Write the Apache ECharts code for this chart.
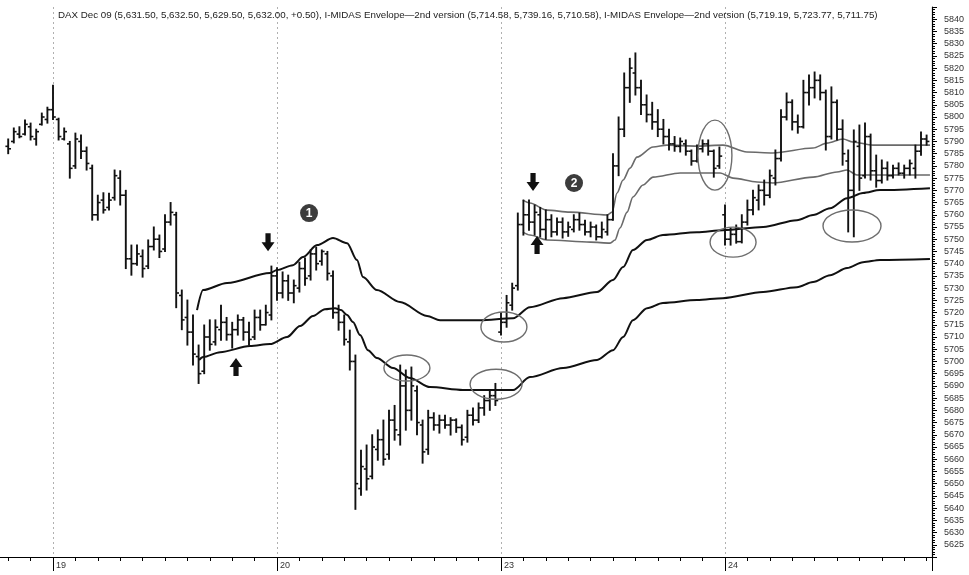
<!DOCTYPE html>
<html><head><meta charset="utf-8">
<script src="https://cdn.jsdelivr.net/npm/echarts@6/dist/echarts.min.js"></script>
<style>html,body{margin:0;padding:0;background:#fff}#c{width:969px;height:575px}</style>
</head><body><div id="c"></div>
<script>
const titleText = "DAX Dec 09 (5,631.50, 5,632.50, 5,629.50, 5,632.00, +0.50), I-MIDAS Envelope\u20142nd version (5,714.58, 5,739.16, 5,710.58), I-MIDAS Envelope\u20142nd version (5,719.19, 5,723.77, 5,711.75)";

// x axis: time in "hour-tick" units, day boundaries every 10 units
const dayTicks = {0: '19', 10: '20', 20: '23', 30: '24'};
const barStep = 0.25;

// OHLC bars [open, high, low, close]
const bars18 = [
  [5788,5791,5785,5787],[5790,5795.5,5789.4,5794],[5793,5796,5791.5,5792],[5793,5798.8,5792.6,5797],
  [5796,5797.5,5790.6,5792],[5791,5795,5788.5,5794],[5797,5801.6,5796.7,5800],[5799,5804,5797.5,5803]
];
const bars19 = [
  [5803,5813,5799,5800],[5799,5799.5,5790.6,5792],[5791,5795.5,5790.6,5794],[5789,5790,5775,5779],
  [5780,5793.4,5779,5791],[5790,5792.6,5783,5786],[5786,5787.7,5778.3,5781],[5779,5780.3,5757.8,5760],
  [5760,5768,5757.8,5765],[5766,5769,5760.7,5762],[5763,5768.8,5762,5766],[5767,5778.3,5766,5776],
  [5775,5778,5764,5768],[5768,5770,5738,5742],[5742,5747.6,5735.3,5740],[5740,5747.6,5739.4,5744],
  [5743,5745.6,5734.5,5738],[5739,5749.7,5738,5747],[5747,5755,5745.6,5750],[5750,5751.7,5742.5,5745],
  [5746,5760,5745,5757],[5757,5765,5755.8,5761],[5760,5761,5722,5728],[5727,5729.2,5713,5717],
  [5718,5725.1,5706.7,5712],[5712,5719,5698.5,5703],[5702,5706.7,5691,5695],[5696,5714.9,5695,5710],
  [5710,5717,5704.6,5707],[5708,5717,5706.7,5714],[5713,5723,5708.7,5716],[5716,5718,5708.7,5711],
  [5711,5716,5705.5,5713],[5713,5719,5710.8,5717],[5717,5718,5708.7,5712],[5712,5716,5706.7,5709],
  [5710,5721,5709,5718],[5718,5721,5712.8,5715],[5715,5723,5714.9,5720],[5719,5739,5717,5735]
];
const bars20 = [
  [5735,5738.3,5725,5728],[5728,5736.6,5726,5733],[5733,5735.3,5725,5728],[5728,5733.3,5724,5731],
  [5730,5740.6,5728.4,5738],[5738,5742.3,5731.2,5734],[5735,5745.6,5733.3,5744],[5744,5746.8,5737.4,5740],
  [5741,5745.6,5739.4,5745],[5744,5745,5733.3,5736],[5735,5737,5717.7,5720],[5720,5723,5712.8,5716],
  [5716,5719,5706.7,5709],[5708,5712.8,5696.5,5700],[5700,5702.6,5639.5,5650],[5648,5663.7,5645.3,5657],
  [5656,5665.8,5647.4,5652],[5653,5670,5652,5665],[5664,5672,5659.6,5668],[5668,5676,5657.6,5660],
  [5662,5680,5660,5676],[5676,5682,5667.8,5672],[5670,5698.5,5665.8,5690],[5690,5696.5,5671.9,5680],
  [5680,5697.7,5676,5690],[5688,5690,5670,5675],[5674,5676,5658.4,5663],[5664,5680,5662,5677],
  [5677,5679,5671.9,5674],[5674,5678,5670.7,5676],[5676,5678,5672.7,5674],[5674,5677,5669.9,5676],
  [5676,5676.5,5671,5673],[5673,5674,5665.8,5668],[5669,5680,5667,5678],[5678,5681,5674,5676],
  [5676,5683,5675,5681],[5681,5686,5678,5684],[5684,5688.3,5680,5686],[5686,5691,5682,5684]
];
const bars23 = [
  [5712,5720,5710.8,5716],[5716,5727,5714,5724],[5723,5732,5721,5730],[5731,5760.7,5729.2,5756],
  [5756,5766,5751.7,5760],[5760,5766,5753.7,5757],[5757,5764,5751.7,5761],[5760,5763,5751,5754],
  [5754,5762,5750,5758],[5758,5760,5751,5753],[5753,5758.7,5751.7,5757],[5757,5758.7,5750.5,5753],
  [5753,5757,5751.2,5755],[5754,5760,5753,5758],[5758,5760.7,5753.7,5756],[5756,5757.8,5751.7,5753],
  [5753,5757,5751,5755],[5755,5755.8,5749.7,5751],[5751,5757,5750.5,5754],[5753,5760,5751.7,5758],
  [5758,5785,5757.8,5780],[5780,5800,5776,5795],[5795,5818,5792,5812],[5812,5824,5806,5820],
  [5818,5826.2,5809,5812],[5812,5815,5801,5805],[5805,5809,5798,5801],[5801,5806,5795,5798],
  [5798,5803,5792,5795],[5795,5799,5789,5792],[5792,5795,5786.5,5789],[5789,5792,5786,5788],
  [5788,5791.4,5785.7,5790],[5789,5790.6,5784.4,5786],[5786,5786.5,5780.3,5782],[5782,5788.5,5781.6,5787],
  [5787,5790.6,5785.7,5789],[5789,5790.6,5784.4,5786],[5786,5786.5,5775.4,5779],[5780,5787.7,5779,5784]
];
const bars24 = [
  [5760,5764,5747.6,5750],[5750,5754.6,5747.6,5752],[5752,5755.8,5748.4,5749],[5749,5760,5748.5,5757],
  [5757,5766,5755.8,5762],[5762,5770,5760,5767],[5766,5772.2,5762,5770],[5770,5774.2,5764,5768],
  [5768,5778.3,5767,5776],[5775,5786.5,5772.2,5783],[5783,5803,5782,5800],[5800,5809.8,5798.8,5806],
  [5806,5807,5794.7,5798],[5798,5800.8,5793.4,5796],[5796,5815,5795.5,5810],[5810,5817.2,5804.9,5812],
  [5812,5818.4,5807.8,5815],[5815,5817.2,5807,5810],[5810,5811,5786.5,5792],[5792,5812.3,5791,5806],
  [5806,5807,5790.6,5795],[5795,5798.8,5780.3,5785],[5782,5786.5,5753,5770],[5770,5794.7,5751,5790],
  [5788,5796.7,5770,5775],[5776,5797.5,5775,5792],[5792,5793,5774.2,5778],[5778,5784.4,5771.3,5774],
  [5774,5782.4,5773,5779],[5779,5781.6,5774.2,5776],[5776,5780.3,5775,5779],[5779,5781.2,5776.3,5777],
  [5777,5780.3,5775,5779],[5779,5782.4,5776.3,5781],[5779,5788.5,5775,5786],[5786,5793.9,5784.4,5791],
  [5791,5792.6,5788.5,5790]
];
const sessions = [[-2, bars18], [0, bars19], [10, bars20], [20, bars23], [30, bars24]];

// I-MIDAS envelope 1 (launched day 19) [time, price]
const env1Upper = [
  [6.43,5721.0],[6.70,5729.2],[7.77,5732.1],[9.69,5736.2],[10.0,5737.4],[10.71,5739.4],[11.16,5742.7],
  [11.79,5747.6],[12.5,5750.5],[13.13,5748.4],[13.57,5741.5],[13.84,5734.5],[14.46,5729.2],[15.49,5724.3],
  [16.70,5718.6],[17.28,5716.9],[19.06,5716.9],[20.54,5717.7],[21.29,5722.2],[22.77,5725.9],[24.29,5728.4],
  [25.0,5733.3],[25.45,5738.6],[25.89,5745.6],[26.52,5749.7],[27.23,5751.7],[28.75,5752.9],[29.91,5753.7],
  [31.70,5755.0],[33.21,5757.8],[33.93,5759.9],[34.69,5762.7],[35.45,5766.8],[36.16,5768.9],[36.92,5770.1],
  [39.15,5770.9]
];
const env1Lower = [
  [6.52,5700.6],[6.70,5701.8],[7.46,5703.8],[8.79,5706.3],[9.69,5707.1],[10.45,5710.0],[11.03,5714.5],
  [11.61,5718.6],[12.14,5721.4],[12.59,5721.8],[12.86,5721.0],[13.13,5719.0],[13.39,5716.1],[13.71,5710.8],
  [14.06,5704.6],[14.46,5701.4],[15.18,5697.3],[15.94,5693.2],[16.83,5689.5],[18.30,5688.3],[20.54,5688.3],
  [21.29,5693.6],[22.77,5697.3],[24.29,5700.6],[25.0,5704.6],[25.45,5710.0],[25.89,5716.9],[26.52,5721.8],
  [27.23,5723.9],[28.75,5725.1],[29.91,5725.9],[31.70,5728.4],[33.21,5730.4],[33.93,5732.5],[34.69,5735.3],
  [35.45,5738.2],[36.16,5740.6],[36.92,5741.5],[39.15,5741.9]
];
// I-MIDAS envelope 2 (launched day 23)
const env2Upper = [
  [20.98,5766.0],[21.29,5764.8],[22.05,5761.9],[23.08,5761.1],[24.73,5759.9],[24.96,5761.1],[25.18,5768.9],
  [25.45,5774.2],[25.76,5779.1],[26.07,5783.6],[26.79,5787.7],[27.41,5788.5],[28.75,5788.1],[29.91,5788.5],
  [30.98,5785.7],[32.14,5785.3],[33.93,5787.3],[34.55,5789.3],[35.27,5791.0],[35.71,5789.8],[36.61,5788.5],
  [39.15,5788.5]
];
const env2Lower = [
  [20.98,5752.9],[21.29,5751.7],[22.05,5749.7],[24.0,5748.8],[24.87,5748.4],[25.09,5749.7],[25.31,5754.6],
  [25.63,5761.1],[25.89,5767.3],[26.34,5772.2],[26.79,5775.4],[28.0,5777.1],[29.78,5777.1],[30.36,5775.0],
  [31.43,5773.4],[32.14,5773.0],[33.93,5775.4],[35.0,5777.5],[35.45,5778.3],[35.89,5776.3],[36.61,5776.3],
  [39.15,5776.3]
];

// annotation anchors [time, price]
const ellipseAnchors = [[20.13,5714.1],[15.80,5697.3],[19.78,5690.7],[29.55,5784.4],[30.36,5748.8],[35.67,5755.4]];
const ellipseRadii = [[23,15],[23,13],[26,15],[17,35],[23,15],[29,16]];
const downArrows = [[9.60,5748.8],[21.43,5773.4]];
const upArrows = [[8.17,5697.7],[21.61,5747.6]];
const numberMarks = [[11.43,5760.7,'1'],[23.26,5773.0,'2']];

const ohlcData = [];
sessions.forEach(function (s) {
  s[1].forEach(function (b, j) { ohlcData.push([s[0] + j * barStep, b[0], b[1], b[2], b[3]]); });
});

const FONT = '"Liberation Sans", Arial, sans-serif';
const chart = echarts.init(document.getElementById('c'), null, {renderer: 'canvas'});
chart.setOption({
  animation: false,
  backgroundColor: '#fff',
  title: {
    text: titleText, left: 58, top: 10, padding: 0,
    textStyle: {fontSize: 9.75, fontWeight: 'normal', color: '#222', fontFamily: FONT}
  },
  grid: {left: -171, right: 37, top: 7, bottom: 18, containLabel: false, outerBoundsMode: 'none'},
  xAxis: {
    type: 'value', min: -10, max: 39.241, interval: 10,
    axisLine: {show: true, onZero: false, lineStyle: {color: '#000', width: 1.2}},
    axisTick: {show: true, length: 14, lineStyle: {color: '#000', width: 1}},
    minorTick: {show: true, splitNumber: 10, length: 4, lineStyle: {color: '#000', width: 1}},
    axisLabel: {
      show: true, margin: 4, align: 'left', padding: [0, 0, 0, 3],
      fontSize: 9, color: '#333', fontFamily: FONT,
      formatter: function (v) { return dayTicks[Math.round(v * 1000) / 1000] || ''; }
    },
    splitLine: {show: true, lineStyle: {color: '#b0b0b0', width: 1, type: [2, 3]}},
    minorSplitLine: {show: false}
  },
  yAxis: {
    type: 'value', position: 'right', min: 5620, max: 5845, interval: 5,
    axisLine: {show: true, onZero: false, lineStyle: {color: '#000', width: 1.2}},
    axisTick: {show: true, length: 5, lineStyle: {color: '#000', width: 1}},
    minorTick: {show: true, splitNumber: 5, length: 3, lineStyle: {color: '#000', width: 1}},
    axisLabel: {
      margin: 12, fontSize: 9, color: '#333', fontFamily: FONT,
      formatter: function (v) { return (v === 5620 || v === 5845) ? '' : String(v); }
    },
    splitLine: {show: false}
  },
  series: [
    {
      type: 'line', name: 'env1U', data: env1Upper, showSymbol: false, smooth: 0.3, smoothMonotone: 'x',
      lineStyle: {color: '#111', width: 2}, z: 3
    },
    {
      type: 'line', name: 'env1L', data: env1Lower, showSymbol: false, smooth: 0.3, smoothMonotone: 'x',
      lineStyle: {color: '#111', width: 2}, z: 3
    },
    {
      type: 'line', name: 'env2U', data: env2Upper, showSymbol: false, smooth: 0.3, smoothMonotone: 'x',
      lineStyle: {color: '#6a6a6a', width: 1.6}, z: 3
    },
    {
      type: 'line', name: 'env2L', data: env2Lower, showSymbol: false, smooth: 0.3, smoothMonotone: 'x',
      lineStyle: {color: '#6a6a6a', width: 1.6}, z: 3
    },
    {
      type: 'custom', name: 'DAX', data: ohlcData, z: 4,
      encode: {x: 0, y: [1, 2, 3, 4]},
      renderItem: function (params, api) {
        const x = api.value(0);
        const o = api.coord([x, api.value(1)]);
        const h = api.coord([x, api.value(2)]);
        const l = api.coord([x, api.value(3)]);
        const c = api.coord([x, api.value(4)]);
        const st = {stroke: '#111', lineWidth: 1.9};
        const tk = {stroke: '#111', lineWidth: 1.6};
        return {type: 'group', children: [
          {type: 'line', shape: {x1: h[0], y1: h[1] - 0.5, x2: l[0], y2: l[1] + 0.5}, style: st},
          {type: 'line', shape: {x1: o[0] - 2.8, y1: o[1], x2: o[0], y2: o[1]}, style: tk},
          {type: 'line', shape: {x1: c[0], y1: c[1], x2: c[0] + 2.8, y2: c[1]}, style: tk}
        ]};
      }
    }
  ]
});

function px(p) { return chart.convertToPixel({xAxisIndex: 0, yAxisIndex: 0}, [p[0], p[1]]); }
const graphics = [];
ellipseAnchors.forEach(function (a, i) {
  const c = px(a);
  graphics.push({type: 'ellipse', z: 10, shape: {cx: c[0], cy: c[1], rx: ellipseRadii[i][0], ry: ellipseRadii[i][1]},
    style: {fill: 'none', stroke: '#6e6e6e', lineWidth: 1.4}});
});
function arrowPts(cx, cy, dir) {
  // dir 1 = down, -1 = up
  const pts = [[-2.6,-9],[2.6,-9],[2.6,0],[6.5,0],[0,9],[-6.5,0],[-2.6,0]];
  return pts.map(function (p) { return [cx + p[0], cy + p[1] * dir]; });
}
downArrows.forEach(function (a) {
  const c = px(a);
  graphics.push({type: 'polygon', z: 10, shape: {points: arrowPts(c[0], c[1], 1)}, style: {fill: '#111'}});
});
upArrows.forEach(function (a) {
  const c = px(a);
  graphics.push({type: 'polygon', z: 10, shape: {points: arrowPts(c[0], c[1], -1)}, style: {fill: '#111'}});
});
numberMarks.forEach(function (a) {
  const c = px(a);
  graphics.push({type: 'circle', z: 10, shape: {cx: c[0], cy: c[1], r: 9}, style: {fill: '#3c3c3c'}});
  graphics.push({type: 'text', z: 11, x: c[0], y: c[1] + 0.5,
    style: {text: a[2], fill: '#fff', font: 'bold 12px ' + FONT, align: 'center', verticalAlign: 'middle'}});
});
chart.setOption({graphic: graphics});
</script>
</body></html>
